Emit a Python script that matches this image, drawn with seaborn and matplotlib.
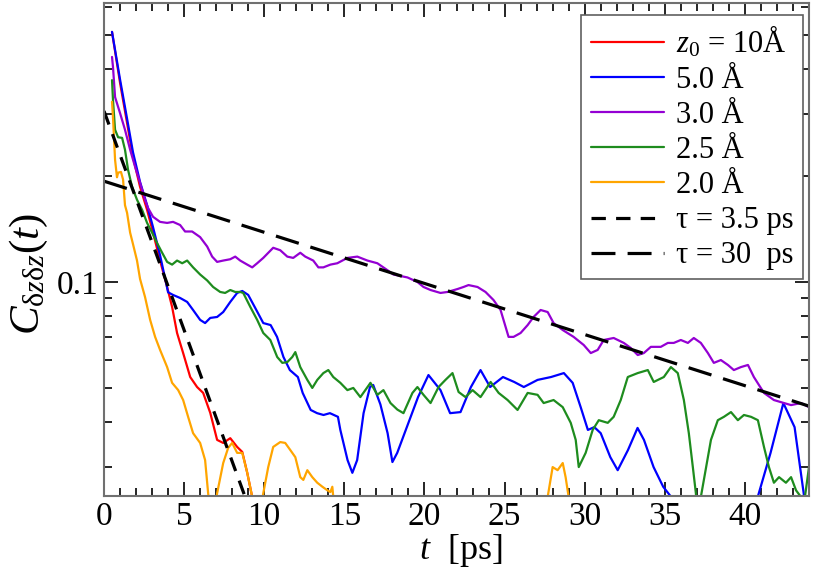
import matplotlib
matplotlib.use('Agg')
import matplotlib.pyplot as plt
import matplotlib.ticker as mticker
import seaborn as sns

# correlation C(t), t in ps
red_t = [0.5, 1.0, 1.44, 1.81, 2.25, 2.69, 3.06, 3.5, 3.94, 4.25, 4.56, 4.94, 5.38, 5.81, 6.19, 6.63,
         7.06, 7.44, 7.88, 8.31, 8.63, 8.94, 9.25, 9.6]
red_c = [0.511, 0.367, 0.282, 0.226, 0.186, 0.160, 0.138, 0.115, 0.0968, 0.0850, 0.0717, 0.0629, 0.0538,
         0.0504, 0.0485, 0.0426, 0.0357, 0.0350, 0.0361, 0.0341, 0.0330, 0.0288, 0.0246, 0.020]

blue_t = [0.5, 1.0, 1.44, 1.81, 2.25, 2.69, 3.06, 3.5, 4.0, 4.31, 4.75, 5.19, 5.56, 6.0, 6.31, 6.63, 7.06,
          7.44, 7.88, 8.31, 8.63, 9.0, 9.44, 9.94, 10.4, 10.8, 11.2, 11.6, 12.1, 12.4, 12.9, 13.3, 13.7,
          14.1, 14.6, 14.75, 15.2, 15.5, 15.8, 16.2, 16.6, 16.8, 17.25, 17.7, 18.0, 18.3, 18.9, 19.6,
          20.25, 21.0, 21.6, 22.25, 22.9, 23.5, 24.1, 24.9, 25.6, 26.2, 27.06, 27.9, 28.7, 29.25, 29.75,
          30.2, 30.6, 31.0, 31.6, 32.06, 32.7, 33.3, 33.7, 34.3, 34.9, 35.4, 35.8, 38.0, 40.5, 40.8, 41.6,
          42.4, 43.1, 43.7, 44.0]
blue_c = [0.511, 0.375, 0.290, 0.233, 0.192, 0.165, 0.143, 0.119, 0.0935, 0.0919, 0.0901, 0.0878, 0.0833,
          0.0781, 0.0765, 0.0791, 0.0796, 0.0822, 0.0878, 0.0931, 0.0943, 0.0919, 0.0844, 0.0765, 0.0755,
          0.0699, 0.0613, 0.0563, 0.0538, 0.0485, 0.0434, 0.0425, 0.0420, 0.0425, 0.0415, 0.0381, 0.0313,
          0.0288, 0.0313, 0.0425, 0.0504, 0.0511, 0.0450, 0.0373, 0.0309, 0.0328, 0.0388, 0.0472, 0.0545,
          0.0494, 0.0425, 0.0428, 0.0504, 0.0563, 0.0504, 0.0538, 0.0521, 0.0504, 0.0528, 0.0538, 0.0552,
          0.0518, 0.0442, 0.0381, 0.0388, 0.0373, 0.0319, 0.0293, 0.0334, 0.0386, 0.0357, 0.0299, 0.0263,
          0.0246, 0.020, 0.012, 0.020, 0.0246, 0.0328, 0.0454, 0.0388, 0.0246, 0.020]

purple_t = [0.5, 0.56, 0.69, 1.0, 1.31, 1.63, 1.94, 2.25, 2.56, 2.75, 3.06, 3.5, 3.94, 4.31, 4.75, 5.06,
            5.5, 6.0, 6.44, 6.75, 7.06, 7.44, 7.88, 8.19, 8.5, 8.94, 9.25, 9.56, 9.94, 10.56, 11.0, 11.44,
            11.81, 12.25, 12.56, 13.06, 13.38, 13.69, 14.13, 14.56, 15.19, 15.81, 16.44, 17.06, 17.69,
            18.06, 18.5, 18.94, 19.56, 19.94, 20.38, 21.0, 21.44, 22.06, 22.44, 22.75, 23.31, 23.81, 24.31,
            24.75, 25.25, 25.56, 26.0, 26.44, 26.81, 27.25, 27.69, 28.06, 28.63, 29.31, 29.94, 30.38,
            30.81, 31.19, 31.81, 32.44, 32.88, 33.31, 33.69, 34.13, 34.75, 35.19, 35.56, 36.0, 36.44,
            36.81, 37.25, 37.69, 38.06, 38.5, 38.94, 39.31, 39.75, 40.19, 40.56, 41.19, 41.81, 42.44,
            42.88, 43.5, 44.0]
purple_c = [0.434, 0.407, 0.334, 0.301, 0.270, 0.237, 0.212, 0.191, 0.171, 0.162, 0.153, 0.148, 0.147,
            0.148, 0.145, 0.139, 0.139, 0.134, 0.126, 0.118, 0.114, 0.115, 0.116, 0.118, 0.115, 0.112,
            0.110, 0.113, 0.117, 0.125, 0.123, 0.118, 0.117, 0.121, 0.118, 0.115, 0.110, 0.110, 0.112,
            0.113, 0.117, 0.118, 0.115, 0.113, 0.108, 0.105, 0.104, 0.103, 0.100, 0.0968, 0.0949, 0.0931,
            0.0937, 0.0955, 0.0968, 0.098, 0.0968, 0.0937, 0.0889, 0.0833, 0.0699, 0.0699, 0.0717, 0.0755,
            0.0796, 0.0833, 0.0822, 0.0765, 0.0731, 0.0699, 0.0663, 0.0629, 0.0642, 0.0685, 0.0694, 0.0672,
            0.0650, 0.0621, 0.0629, 0.0655, 0.0655, 0.0672, 0.0672, 0.0685, 0.0672, 0.0694, 0.0672, 0.0629,
            0.0590, 0.0601, 0.0582, 0.0563, 0.0574, 0.0582, 0.0538, 0.0485, 0.0463, 0.0454, 0.0448, 0.0454,
            0.0442]

green_t = [0.5, 0.56, 0.69, 0.88, 1.13, 1.31, 1.5, 1.75, 2.06, 2.38, 2.69, 3.0, 3.31, 3.63, 3.94, 4.25,
           4.56, 4.88, 5.19, 5.56, 6.0, 6.44, 6.81, 7.25, 7.56, 7.88, 8.19, 8.5, 8.69, 9.13, 9.56, 9.94,
           10.38, 10.81, 11.13, 11.44, 11.75, 11.94, 12.25, 12.69, 13.0, 13.31, 13.69, 14.0, 14.31, 14.75,
           15.19, 15.56, 16.0, 16.31, 16.63, 17.06, 17.44, 17.88, 18.31, 18.69, 19.25, 19.56, 19.94, 20.38,
           20.88, 21.31, 21.75, 22.13, 22.56, 23.0, 23.5, 24.13, 24.63, 25.19, 25.81, 26.44, 27.06, 27.44,
           28.06, 28.63, 29.13, 29.44, 29.63, 30.06, 30.5, 30.88, 31.44, 31.81, 32.25, 32.69, 33.31, 33.94,
           34.31, 34.94, 35.38, 35.81, 36.19, 36.5, 36.75, 36.94, 37.1, 37.25, 37.88, 38.31, 38.69, 39.13,
           39.56, 39.94, 40.38, 40.81, 41.19, 41.5, 41.81, 42.13, 42.56, 42.88, 43.19, 43.5, 43.6, 44.0]
green_c = [0.373, 0.328, 0.270, 0.257, 0.256, 0.237, 0.208, 0.186, 0.171, 0.160, 0.147, 0.138, 0.129, 0.121,
           0.114, 0.112, 0.115, 0.113, 0.115, 0.110, 0.105, 0.101, 0.0968, 0.0937, 0.0931, 0.0949, 0.0937,
           0.0937, 0.0931, 0.0850, 0.0781, 0.0717, 0.0685, 0.0613, 0.0590, 0.0593, 0.0613, 0.0633, 0.0574,
           0.0528, 0.0501, 0.0528, 0.0552, 0.0563, 0.0538, 0.0518, 0.0494, 0.0501, 0.0472, 0.0494, 0.0518,
           0.0479, 0.0494, 0.0454, 0.0435, 0.0425, 0.0485, 0.0504, 0.0479, 0.0454, 0.0504, 0.0528, 0.0552,
           0.0488, 0.0472, 0.0494, 0.0472, 0.0521, 0.0485, 0.0463, 0.0434, 0.0485, 0.0479, 0.0454, 0.0463,
           0.0442, 0.0399, 0.0357, 0.0299, 0.0328, 0.0381, 0.0406, 0.0399, 0.0415, 0.0463, 0.0538, 0.0552,
           0.0563, 0.0521, 0.0538, 0.0574, 0.0552, 0.0463, 0.0373, 0.0299, 0.0252, 0.020, 0.0246, 0.0357,
           0.0406, 0.0415, 0.0428, 0.0406, 0.0420, 0.0415, 0.0406, 0.0341, 0.0299, 0.0270, 0.0280, 0.0270,
           0.0280, 0.0257, 0.0246, 0.022, 0.0299]

orange_t = [0.5, 0.56, 0.63, 0.69, 0.81, 0.88, 1.06, 1.19, 1.31, 1.44, 1.63, 1.81, 2.06, 2.25, 2.56, 2.88,
            3.19, 3.5, 3.94, 4.25, 4.63, 4.94, 5.25, 5.56, 6.0, 6.31, 6.5, 6.75, 7.06, 7.44, 7.75, 8.0,
            8.31, 8.63, 8.94, 9.25, 9.6, 9.94, 10.25, 10.56, 11.0, 11.31, 11.63, 11.94, 12.25, 12.44,
            12.69, 13.0, 13.31, 13.63, 13.94, 14.13, 14.25, 14.31, 14.5, 27.5, 27.69, 28.0, 28.31, 28.63,
            28.81, 29.0, 29.2]
orange_c = [0.324, 0.293, 0.253, 0.222, 0.198, 0.204, 0.205, 0.195, 0.165, 0.157, 0.138, 0.128, 0.115,
            0.102, 0.0907, 0.0781, 0.0699, 0.0642, 0.0574, 0.0518, 0.0494, 0.0463, 0.0415, 0.0373, 0.0350,
            0.0313, 0.0252, 0.020, 0.0252, 0.0307, 0.0339, 0.0350, 0.0328, 0.0328, 0.0288, 0.0246, 0.020,
            0.0252, 0.0299, 0.0341, 0.0352, 0.0350, 0.0334, 0.0319, 0.0280, 0.0275, 0.0293, 0.0280, 0.0270,
            0.0263, 0.0257, 0.0254, 0.0263, 0.0246, 0.020, 0.015, 0.0246, 0.0299, 0.0293, 0.0307, 0.0280,
            0.0246, 0.020]

# exponential fits, end points
fit_short_t = [0.0, 9.0]
fit_short_c = [0.305, 0.0233]
fit_long_t = [0.0, 44.0]
fit_long_c = [0.193, 0.0445]

labels = [r'$\mathit{z}_{\mathit{0}}$ = 10Å', '5.0 Å', '3.0 Å', '2.5 Å', '2.0 Å', 'τ = 3.5 ps', 'τ = 30  ps']
colors = ['#ff0000', '#0000ff', '#9400d3', '#1e8c1e', '#ffa500']

sns.set_style('ticks')
plt.rcParams['font.family'] = ['Liberation Serif', 'DejaVu Serif']
plt.rcParams['mathtext.fontset'] = 'custom'
plt.rcParams['mathtext.rm'] = 'Liberation Serif'
plt.rcParams['mathtext.it'] = 'Liberation Serif:italic'
plt.rcParams['text.color'] = 'black'
plt.rcParams['axes.labelcolor'] = 'black'
plt.rcParams['xtick.color'] = 'black'
plt.rcParams['ytick.color'] = 'black'

fig = plt.figure(figsize=(8.13, 5.70), dpi=100)
ax = fig.add_axes([104 / 813, 74 / 570, 705 / 813, 493 / 570])

series = [(red_t, red_c), (blue_t, blue_c), (purple_t, purple_c), (green_t, green_c), (orange_t, orange_c)]
for (t, c), col, lab in zip(series, colors, labels[:5]):
    sns.lineplot(x=t, y=c, color=col, lw=1.6, label=lab, ax=ax, sort=False, estimator=None)

sns.lineplot(x=fit_short_t, y=fit_short_c, color='black', lw=2.3, label=labels[5], ax=ax,
             sort=False, estimator=None)
ax.lines[-1].set_dashes((4.5, 3.2))
sns.lineplot(x=fit_long_t, y=fit_long_c, color='black', lw=2.3, label=labels[6], ax=ax,
             sort=False, estimator=None)
ax.lines[-1].set_dashes((7.5, 3.8))

ax.set_yscale('log')
ax.set_xlim(0, 44)
ax.set_ylim(0.02476, 0.617)

ax.xaxis.set_major_locator(mticker.MultipleLocator(5))
ax.xaxis.set_minor_locator(mticker.MultipleLocator(1))
ax.yaxis.set_major_locator(mticker.FixedLocator([0.1]))
ax.yaxis.set_major_formatter(mticker.FixedFormatter(['0.1']))
ax.yaxis.set_minor_locator(mticker.LogLocator(base=10, subs=[2, 3, 4, 5, 6, 7, 8, 9]))
ax.yaxis.set_minor_formatter(mticker.NullFormatter())

ax.tick_params(which='both', direction='in', top=True, right=True, color='black', width=1.2,
               labelcolor='black')
ax.tick_params(which='major', length=10, labelsize=24)
ax.tick_params(which='minor', length=5.5)
ax.tick_params(axis='x', which='major', pad=4)
ax.tick_params(axis='y', which='major', pad=4)
for sp in ax.spines.values():
    sp.set_color('#707070')
    sp.set_linewidth(1.5)

ax.set_xlabel(r'$t$  [ps]', fontsize=26)
ax.set_ylabel(r'$C_{\mathrm{\delta}z\mathrm{\delta}z}(t)$', fontsize=31)
ax.xaxis.set_label_coords(0.506, -0.073)
ax.yaxis.set_label_coords(-0.077, 0.45)

leg = ax.legend(loc='upper right', bbox_to_anchor=(0.9915, 0.9757), borderaxespad=0, fontsize=22,
                frameon=True, fancybox=False, framealpha=1, edgecolor='#606060',
                handlelength=2.4, handletextpad=0.4, labelspacing=0.2, borderpad=0.3)
leg.get_frame().set_linewidth(1.2)

fig.savefig('out.png', dpi=100)
